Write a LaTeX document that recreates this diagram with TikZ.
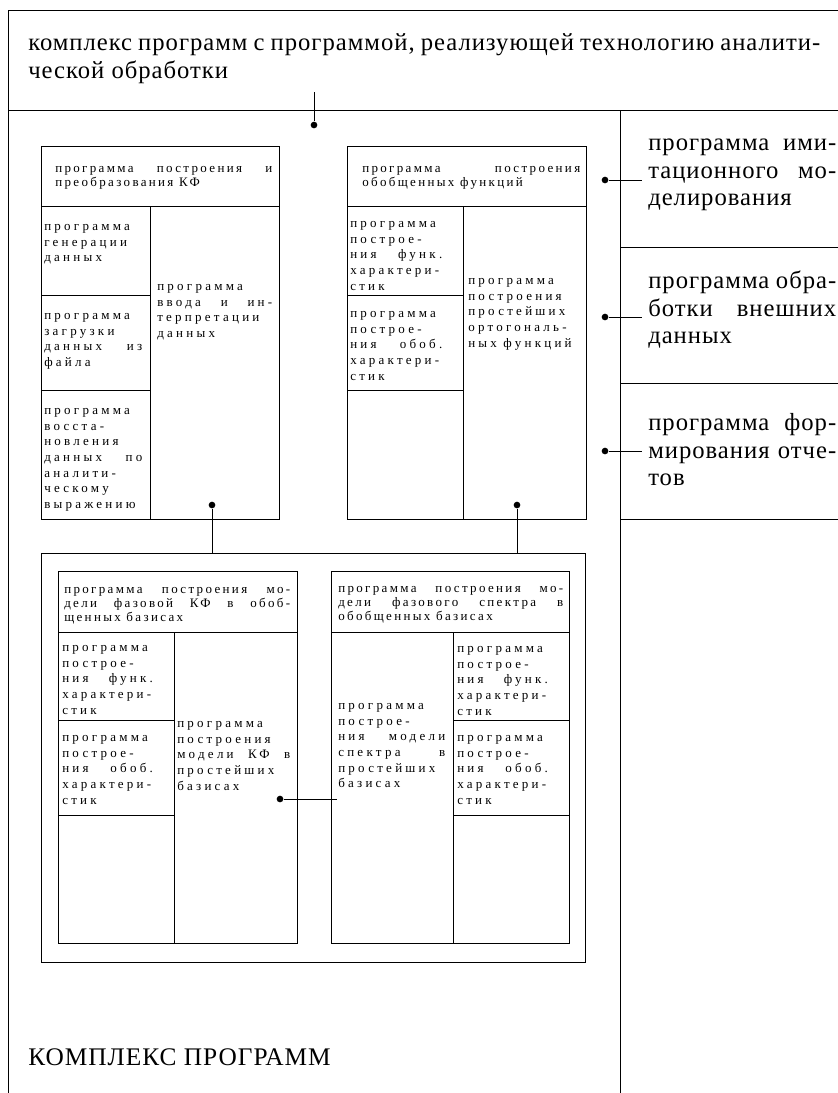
\documentclass[tikz,border=0pt]{standalone}
\usepackage{fontspec}
\setmainfont{Liberation Serif}
\newfontfamily\bigfam[LetterSpace=4]{Liberation Serif}
\newfontfamily\headfam[LetterSpace=18]{Liberation Serif}
\newfontfamily\cellfam[LetterSpace=25]{Liberation Serif}
\usetikzlibrary{calc,positioning}
\setlength\parindent{0pt}
\exhyphenpenalty=10000
\hyphenpenalty=10000
\newcommand\bigtxt{\bigfam\fontsize{18.5}{20.75}\selectfont}
\newcommand\captxt{\bigfam\fontsize{19}{21}\selectfont}
\newcommand\headtxt{\headfam\fontsize{9.75}{10.5}\selectfont}
\newcommand\celltxt{\cellfam\fontsize{9.75}{11.8}\selectfont}
\tikzset{
  frame/.style={line width=0.6pt},
  txt/.style={anchor=north west,inner sep=0pt,align=justify,execute at begin node=\strut},
  bigt/.style={txt,font=\bigtxt},
  headt/.style={txt,font=\headtxt},
  cellt/.style={txt,font=\celltxt},
  dot/.style={circle,fill,inner sep=0pt,minimum size=5pt}
}

\begin{document}
\begin{tikzpicture}[x=0.75pt,y=-0.75pt]
  \useasboundingbox (0,0) rectangle (838,1093);
  % outer frame of the complex
  \draw[frame] (8,1093) -- (8,10) -- (838,10);
  \draw[frame] (8,110) -- (838,110);
  \draw[frame] (620,110) -- (620,1093);
  \foreach \y in {247,383,519}
    \draw[frame] (620,\y) -- (838,\y);
  \node[bigt,text width=594pt] (head) at (28,31) {комплекс~программ~с~программой,~реализующей~технологию~аналити-\linebreak ческой обработки};
  \node[font=\captxt,anchor=base west,inner sep=0pt] (cplx) at (28,1065) {КОМПЛЕКС ПРОГРАММ};

  % right column
  \node[bigt,text width=141pt] (imit) at (648,131) {программа~ими-\linebreak тационного~мо-\linebreak делирования};
  \node[bigt,text width=141pt] (ext) at (648,269) {программа~обра-\linebreak ботки~внешних\linebreak данных};
  \node[bigt,text width=141pt] (rep) at (648,411) {программа~фор-\linebreak мирования~отче-\linebreak тов};
  \foreach \n/\y in {imitdot/180,extdot/317,repdot/451}{
    \node[dot] (\n) at (605,\y) {};
    \coordinate (\n e) at (642,\y);
    \draw[frame] (\n) -- (\n e);
  }

  \coordinate (headc) at (314,92);
  \node[dot] (headdot) at (314,125) {};
  \draw[frame] (headc) -- (headdot);

  % program KF
  \draw[frame] (41,146) rectangle (279,519);
  \draw[frame] (41,206) -- (279,206) (150,206) -- (150,519);
  \draw[frame] (41,295) -- (150,295) (41,390) -- (150,390);
  \node[headt,text width=162.75pt] (kf) at (55,162) {программа~построения~и\linebreak преобразования КФ};
  \node[cellt,text width=73.5pt] (kfgen) at (44,219) {программа\\генерации\\данных};
  \node[cellt,text width=73.5pt] (kfload) at (44,308) {программа\\загрузки\\данных~из\linebreak файла};
  \node[cellt,text width=73.5pt] (kfrest) at (44,403) {программа\\восста-\\новления\\данных~по\linebreak аналити-\\ческому\\выражению};
  \node[cellt,text width=86.25pt] (kfin) at (157,279) {программа\\ввода~и~ин-\linebreak терпретации\\данных};
  \node[dot] (kfdot) at (212,505) {};

  % program of generalized functions
  \draw[frame] (347,146) rectangle (586,519);
  \draw[frame] (347,206) -- (586,206) (463,206) -- (463,519);
  \draw[frame] (347,295) -- (463,295) (347,390) -- (463,390);
  \node[headt,text width=163.5pt] (gf) at (362,162) {программа~построения\linebreak обобщенных функций};
  \node[cellt,text width=69pt] (gffun) at (350,216) {программа\\построе-\\ния~функ.\linebreak характери-\\стик};
  \node[cellt,text width=69pt] (gfgen) at (350,306) {программа\\построе-\\ния~обоб.\linebreak характери-\\стик};
  \node[cellt,text width=84pt] (gfort) at (468,273) {программа\\построения\\простейших\\ортогональ-\\ных функций};
  \node[dot] (gfdot) at (517,505) {};

  % models
  \draw[frame] (41,553) rectangle (585,962);
  \coordinate (mdlkf) at (212,553);
  \coordinate (mdlgf) at (517,553);
  \draw[frame] (kfdot) -- (mdlkf);
  \draw[frame] (gfdot) -- (mdlgf);

  % phase KF model
  \draw[frame] (58,571) rectangle (297,943);
  \draw[frame] (58,632) -- (297,632) (174,632) -- (174,943);
  \draw[frame] (58,720) -- (174,720) (58,815) -- (174,815);
  \node[headt,text width=169.5pt] (phkf) at (64,583) {программа~построения~мо-\linebreak дели~фазовой~КФ~в~обоб-\linebreak щенных базисах};
  \node[cellt,text width=68pt] (phfun) at (62,640) {программа\\построе-\\ния~функ.\linebreak характери-\\стик};
  \node[cellt,text width=68pt] (phgen) at (62,730) {программа\\построе-\\ния~обоб.\linebreak характери-\\стик};
  \node[cellt,text width=84.75pt] (phsim) at (177,716) {программа\\построения\\модели~КФ~в\linebreak простейших\\базисах};
  \node[dot] (phdot) at (280,799) {};

  % phase spectrum model
  \draw[frame] (331,571) rectangle (569,943);
  \draw[frame] (331,632) -- (569,632) (453,632) -- (453,943);
  \draw[frame] (453,720) -- (569,720) (453,815) -- (569,815);
  \node[headt,text width=168.75pt] (sp) at (338,582) {программа~построения~мо-\linebreak дели~фазового~спектра~в\linebreak обобщенных базисах};
  \node[cellt,text width=80.25pt] (spsim) at (338,698) {программа\\построе-\\ния~модели\linebreak спектра~в\linebreak простейших\\базисах};
  \node[cellt,text width=68pt] (spfun) at (457,641) {программа\\построе-\\ния~функ.\linebreak характери-\\стик};
  \node[cellt,text width=68pt] (spgen) at (457,730) {программа\\построе-\\ния~обоб.\linebreak характери-\\стик};
  \coordinate (spin) at (337,799);
  \draw[frame] (phdot) -- (spin);
\end{tikzpicture}
\end{document}
